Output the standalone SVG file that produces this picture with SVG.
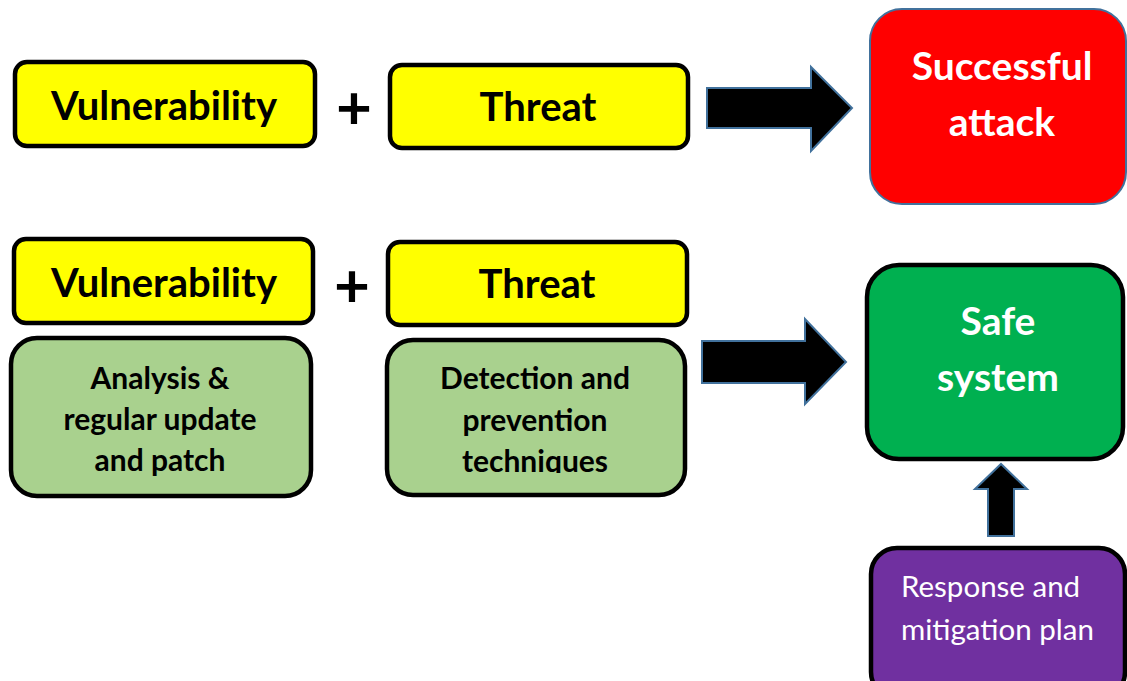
<svg xmlns="http://www.w3.org/2000/svg" width="1127" height="681" viewBox="0 0 1127 681">
  <style>
    .box { stroke: #000; stroke-width: 4.5; }
    .yellow { fill: #FFFF00; }
    .lgreen { fill: #A9D18E; }
    .bold { font-family: Lato, "Open Sans", "Liberation Sans", sans-serif; font-weight: bold; text-anchor: middle; }
    .label { font-size: 40px; fill: #000; }
    .sub { font-size: 30px; fill: #000; }
    .big { font-size: 39px; fill: #FFF; }
    .plus { font-size: 62px; fill: #000; }
    .plain { font-family: Lato, "Open Sans", "Liberation Sans", sans-serif; font-size: 29.5px; fill: #FFF; }
    .arrow { fill: #000; stroke: #41719C; stroke-width: 2; stroke-linejoin: miter; }
  </style>
  <defs>
    <clipPath id="clipDetect">
      <rect x="385" y="338" width="302" height="135"/>
    </clipPath>
  </defs>
  <rect width="1127" height="681" fill="#FFFFFF"/>

  <!-- top row: vulnerability + threat leads to attack -->
  <g id="vuln1">
    <rect class="box yellow" x="15" y="62" width="300" height="84" rx="12"/>
    <text class="bold label" x="164" y="120">Vulnerability</text>
  </g>
  <g id="plus1">
    <text class="bold plus" x="354" y="129">+</text>
  </g>
  <g id="threat1">
    <rect class="box yellow" x="390" y="65" width="298" height="83" rx="12"/>
    <text class="bold label" x="538" y="121">Threat</text>
  </g>
  <g id="attack">
    <rect x="870" y="9" width="256" height="195" rx="32" fill="#FF0000" stroke="#41719C" stroke-width="2"/>
    <text class="bold big" x="1002" y="80">Successful</text>
    <text class="bold big" x="1002" y="136">attack</text>
  </g>

  <!-- bottom row: countermeasures lead to a safe system -->
  <g id="vuln2">
    <rect class="box yellow" x="14" y="239" width="299" height="84" rx="12"/>
    <text class="bold label" x="164" y="297">Vulnerability</text>
  </g>
  <g id="plus2">
    <text class="bold plus" x="352" y="307">+</text>
  </g>
  <g id="threat2">
    <rect class="box yellow" x="388" y="242" width="299" height="83" rx="12"/>
    <text class="bold label" x="537" y="298">Threat</text>
  </g>
  <g id="analysis">
    <rect class="box lgreen" x="11" y="338" width="300" height="158" rx="26"/>
    <text class="bold sub" x="160" y="389">Analysis &amp;</text>
    <text class="bold sub" x="160" y="430">regular update</text>
    <text class="bold sub" x="160" y="471">and patch</text>
  </g>
  <g id="detection">
    <rect class="box lgreen" x="387" y="340" width="298" height="155" rx="26"/>
    <g clip-path="url(#clipDetect)">
      <text class="bold sub" x="535" y="389">Detection and</text>
      <text class="bold sub" x="535" y="431">prevention</text>
      <text class="bold sub" x="535" y="472">techniques</text>
    </g>
  </g>
  <g id="safe">
    <rect class="box" x="867" y="265" width="256" height="194" rx="32" fill="#00B050"/>
    <text class="bold big" x="998" y="335">Safe</text>
    <text class="bold big" x="998" y="391">system</text>
  </g>
  <g id="response">
    <rect class="box" x="871" y="548" width="254" height="150" rx="26" fill="#7030A0"/>
    <text class="plain" x="901" y="597">Response and</text>
    <text class="plain" x="901" y="640">mitigation plan</text>
  </g>

  <!-- block arrows -->
  <g id="connectors">
    <path class="arrow" d="M707,88 H811 V67 L852,108 L811,151 V128 H707 Z"/>
    <path class="arrow" d="M702,341 H805 V319 L846,362 L805,404 V383 H702 Z"/>
    <path class="arrow" d="M988,536 V489 H975 L1001,464 L1027,489 H1014 V536 Z"/>
  </g>
</svg>
